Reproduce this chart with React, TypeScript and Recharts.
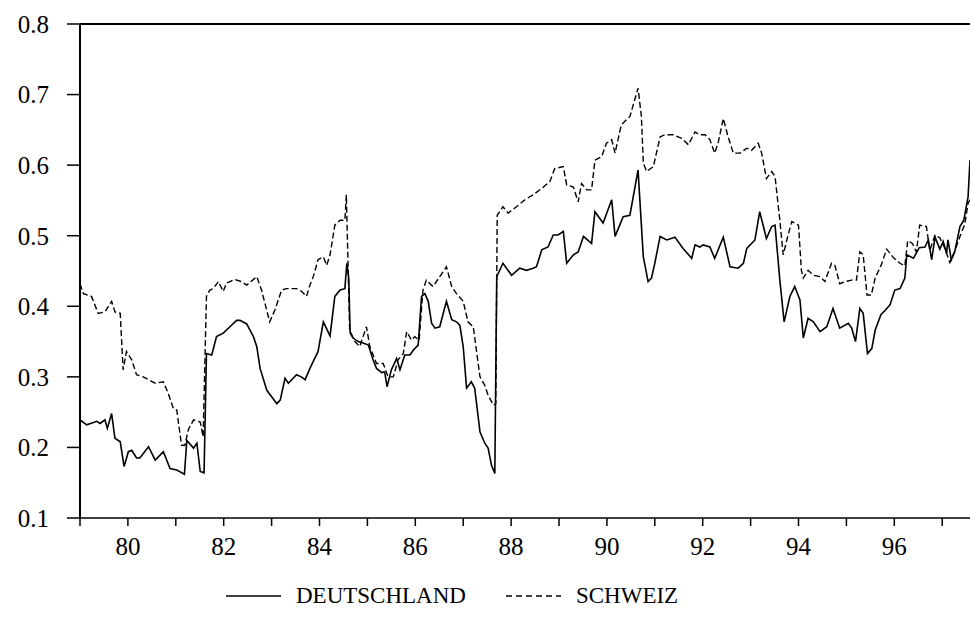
import { LineChart, Line, XAxis, YAxis, ReferenceLine } from "recharts";

// decimal years
const deDates = [
  79.0, 79.14, 79.35, 79.42, 79.52, 79.57, 79.66, 79.73, 79.84, 79.92,
  80.01, 80.08, 80.18, 80.25, 80.43, 80.57, 80.74, 80.88, 81.02, 81.18,
  81.23, 81.37, 81.44, 81.51, 81.59, 81.64, 81.75, 81.85, 81.99, 82.13,
  82.27, 82.34, 82.48, 82.62, 82.69, 82.76, 82.9, 83.11, 83.18, 83.28,
  83.35, 83.52, 83.62, 83.7, 83.8, 83.87, 83.97, 84.08, 84.22, 84.32,
  84.43, 84.53, 84.57, 84.61, 84.64, 84.7, 84.81, 84.91, 85.02, 85.12,
  85.19, 85.3, 85.36, 85.41, 85.5, 85.61, 85.68, 85.78, 85.89, 85.96,
  86.06, 86.13, 86.2, 86.27, 86.34, 86.41, 86.51, 86.65, 86.76, 86.86,
  86.93, 87.0, 87.07, 87.17, 87.24, 87.35, 87.45, 87.52, 87.59, 87.66,
  87.7, 87.83, 88.01, 88.18, 88.32, 88.46, 88.53, 88.64, 88.77, 88.88,
  88.98, 89.09, 89.16, 89.3, 89.4, 89.51, 89.68, 89.75, 89.92, 90.1,
  90.17, 90.34, 90.48, 90.65, 90.76, 90.86, 90.93, 91.0, 91.11, 91.25,
  91.42, 91.59, 91.77, 91.84, 91.94, 92.01, 92.15, 92.25, 92.43, 92.57,
  92.74, 92.85, 92.92, 93.09, 93.19, 93.33, 93.44, 93.51, 93.61, 93.7,
  93.82, 93.92, 94.03, 94.1, 94.2, 94.31, 94.45, 94.59, 94.72, 94.86,
  95.04, 95.11, 95.19, 95.28, 95.35, 95.44, 95.53, 95.6, 95.72, 95.82,
  95.91, 96.01, 96.12, 96.22, 96.26, 96.4, 96.52, 96.64, 96.71, 96.78,
  96.85, 96.95, 97.02, 97.09, 97.12, 97.19, 97.26, 97.37, 97.45, 97.54,
  97.58,
];

const deValues = [
  0.239, 0.232, 0.237, 0.234, 0.239, 0.227, 0.248, 0.213, 0.208, 0.173,
  0.194, 0.196, 0.185, 0.185, 0.201, 0.182, 0.194, 0.17, 0.168, 0.162,
  0.21, 0.199, 0.206, 0.166, 0.164, 0.333, 0.331, 0.357, 0.362, 0.371,
  0.38, 0.38, 0.375, 0.357, 0.343, 0.312, 0.281, 0.262, 0.267, 0.298,
  0.291, 0.303, 0.3, 0.296, 0.312, 0.322, 0.336, 0.378, 0.358, 0.414,
  0.423, 0.425, 0.461, 0.44, 0.362, 0.355, 0.35, 0.348, 0.345, 0.324,
  0.312, 0.306, 0.307, 0.286, 0.31, 0.326, 0.31, 0.331, 0.331, 0.338,
  0.345, 0.414, 0.418, 0.407, 0.376, 0.369, 0.371, 0.407, 0.381, 0.378,
  0.373, 0.343, 0.284, 0.293, 0.284, 0.222, 0.206, 0.199, 0.175, 0.163,
  0.442, 0.461, 0.444, 0.454, 0.451, 0.454, 0.456, 0.48, 0.484, 0.501,
  0.501, 0.506, 0.461, 0.473, 0.477, 0.499, 0.489, 0.534, 0.518, 0.551,
  0.499, 0.527, 0.529, 0.593, 0.47, 0.435, 0.44, 0.461, 0.499, 0.494,
  0.498, 0.482, 0.468, 0.487, 0.484, 0.487, 0.484, 0.468, 0.498, 0.456,
  0.454, 0.461, 0.482, 0.494, 0.534, 0.496, 0.513, 0.515, 0.437, 0.378,
  0.414, 0.428, 0.409, 0.355, 0.383, 0.378, 0.364, 0.371, 0.397, 0.369,
  0.376, 0.369, 0.35, 0.397, 0.39, 0.333, 0.34, 0.366, 0.388, 0.395,
  0.402, 0.423, 0.425, 0.44, 0.473, 0.468, 0.483, 0.484, 0.494, 0.466,
  0.498, 0.481, 0.492, 0.475, 0.494, 0.466, 0.477, 0.513, 0.522, 0.555,
  0.607,
];

const chDates = [
  79.0, 79.07, 79.24, 79.38, 79.52, 79.66, 79.73, 79.84, 79.9, 79.97,
  80.08, 80.18, 80.32, 80.43, 80.57, 80.74, 80.84, 80.95, 81.02, 81.12,
  81.19, 81.26, 81.37, 81.51, 81.57, 81.64, 81.71, 81.78, 81.89, 81.99,
  82.06, 82.23, 82.37, 82.48, 82.69, 82.79, 82.96, 83.07, 83.21, 83.31,
  83.52, 83.63, 83.73, 83.8, 83.87, 83.97, 84.08, 84.15, 84.22, 84.32,
  84.43, 84.53, 84.56, 84.63, 84.74, 84.84, 84.98, 85.05, 85.19, 85.33,
  85.43, 85.54, 85.64, 85.75, 85.82, 85.92, 85.99, 86.08, 86.16, 86.23,
  86.37, 86.51, 86.65, 86.76, 86.86, 87.0, 87.1, 87.21, 87.35, 87.45,
  87.52, 87.63, 87.68, 87.71, 87.83, 87.94, 88.11, 88.29, 88.46, 88.64,
  88.81, 88.91, 89.09, 89.16, 89.3, 89.4, 89.47, 89.58, 89.68, 89.75,
  89.89, 89.99, 90.1, 90.17, 90.3, 90.48, 90.65, 90.72, 90.76, 90.83,
  90.97, 91.11, 91.21, 91.38, 91.56, 91.7, 91.84, 91.94, 92.05, 92.15,
  92.25, 92.32, 92.43, 92.53, 92.64, 92.78, 92.92, 93.02, 93.16, 93.23,
  93.33, 93.44, 93.51, 93.61, 93.68, 93.79, 93.86, 94.0, 94.06, 94.1,
  94.2, 94.31, 94.45, 94.55, 94.69, 94.76, 94.86, 94.97, 95.11, 95.21,
  95.28, 95.35, 95.43, 95.52, 95.6, 95.73, 95.84, 95.98, 96.12, 96.22,
  96.28, 96.38, 96.46, 96.53, 96.67, 96.74, 96.85, 96.95, 97.05, 97.16,
  97.26, 97.37, 97.47, 97.54, 97.58,
];

const chValues = [
  0.432, 0.418, 0.414, 0.39, 0.392, 0.407, 0.392, 0.39, 0.31, 0.336,
  0.324, 0.303, 0.3, 0.296, 0.291, 0.293, 0.277, 0.255, 0.253, 0.203,
  0.203, 0.225, 0.239, 0.236, 0.215, 0.414, 0.423, 0.425, 0.435, 0.421,
  0.433, 0.438, 0.435, 0.43, 0.442, 0.423, 0.378, 0.395, 0.423, 0.425,
  0.425, 0.421, 0.414, 0.43, 0.442, 0.466, 0.47, 0.458, 0.473, 0.515,
  0.522, 0.522, 0.558, 0.366, 0.35, 0.343, 0.371, 0.343, 0.319, 0.319,
  0.3, 0.3, 0.324, 0.333, 0.364, 0.352, 0.357, 0.352, 0.423, 0.437,
  0.428, 0.442, 0.456, 0.428, 0.418, 0.407, 0.378, 0.371, 0.3, 0.288,
  0.274, 0.26, 0.262, 0.529, 0.541, 0.532, 0.541, 0.551, 0.558, 0.567,
  0.577, 0.595, 0.598, 0.572, 0.569, 0.548, 0.574, 0.565, 0.565, 0.607,
  0.612, 0.631, 0.636, 0.617, 0.657, 0.669, 0.709, 0.669, 0.603, 0.591,
  0.598, 0.64, 0.643, 0.643, 0.638, 0.629, 0.647, 0.643, 0.643, 0.636,
  0.617, 0.631, 0.666, 0.64, 0.617, 0.617, 0.624, 0.621, 0.631, 0.617,
  0.581, 0.591, 0.584, 0.522, 0.473, 0.503, 0.52, 0.515, 0.451, 0.44,
  0.451, 0.444, 0.442, 0.435, 0.461, 0.458, 0.432, 0.435, 0.437, 0.437,
  0.477, 0.473, 0.416, 0.416, 0.44, 0.459, 0.481, 0.469, 0.461, 0.457,
  0.493, 0.489, 0.477, 0.515, 0.513, 0.479, 0.501, 0.497, 0.483, 0.462,
  0.478, 0.499, 0.516, 0.546, 0.551,
];

const yTicks = [0.1, 0.2, 0.3, 0.4, 0.5, 0.6, 0.7, 0.8];
const xTicks = [79, 80, 81, 82, 83, 84, 85, 86, 87, 88, 89, 90, 91, 92, 93, 94, 95, 96, 97];

const SERIF = '"Liberation Serif", "Times New Roman", serif';

const deData = deDates.map((x, i) => ({ x, y: deValues[i] }));
const chData = chDates.map((x, i) => ({ x, y: chValues[i] }));

const LegendItem = ({ dashed, label }: { dashed?: boolean; label: string }) => (
  <div style={{ display: "flex", alignItems: "center" }}>
    <svg width={55} height={10} style={{ marginRight: 15 }}>
      <line
        x1={0}
        y1={5}
        x2={55}
        y2={5}
        stroke="#000"
        strokeWidth={1.3}
        strokeDasharray={dashed ? "6 4" : undefined}
      />
    </svg>
    <span>{label}</span>
  </div>
);

export default function App() {
  return (
    <div
      style={{
        position: "absolute",
        left: 0,
        top: 0,
        width: 970,
        height: 626,
        background: "#fff",
        fontFamily: SERIF,
      }}
    >
      <LineChart
        width={970}
        height={626}
        data={deData}
        margin={{ top: 24, right: 0, bottom: 68, left: 0 }}
      >
        <XAxis
          type="number"
          dataKey="x"
          domain={[79, 97.58]}
          allowDataOverflow
          ticks={xTicks}
          interval={0}
          tickFormatter={(v: number) => (v % 2 === 0 ? String(v) : "")}
          tick={{ fill: "#000", fontSize: 25, fontFamily: SERIF }}
          tickSize={8}
          tickMargin={11}
          height={40}
          axisLine={{ stroke: "#000", strokeWidth: 1.5 }}
          tickLine={{ stroke: "#000", strokeWidth: 1.5 }}
        />
        <YAxis
          type="number"
          domain={[0.1, 0.8]}
          ticks={yTicks}
          interval={0}
          tickFormatter={(v: number) => v.toFixed(1)}
          tick={{ fill: "#000", fontSize: 25, fontFamily: SERIF }}
          tickSize={13}
          tickMargin={18}
          width={80}
          axisLine={{ stroke: "#000", strokeWidth: 2 }}
          tickLine={{ stroke: "#000", strokeWidth: 1.5 }}
        />
        <ReferenceLine y={0.8} stroke="#000" strokeWidth={2} />
        <Line
          data={deData}
          dataKey="y"
          type="linear"
          stroke="#000"
          strokeWidth={1.6}
          dot={false}
          isAnimationActive={false}
        />
        <Line
          data={chData}
          dataKey="y"
          type="linear"
          stroke="#000"
          strokeWidth={1.4}
          strokeDasharray="6 3"
          dot={false}
          isAnimationActive={false}
        />
      </LineChart>
      <div
        style={{
          position: "absolute",
          top: 581,
          left: 226,
          display: "flex",
          gap: 40,
          fontSize: 23,
          color: "#000",
          lineHeight: "30px",
        }}
      >
        <LegendItem label="DEUTSCHLAND" />
        <LegendItem dashed label="SCHWEIZ" />
      </div>
    </div>
  );
}
